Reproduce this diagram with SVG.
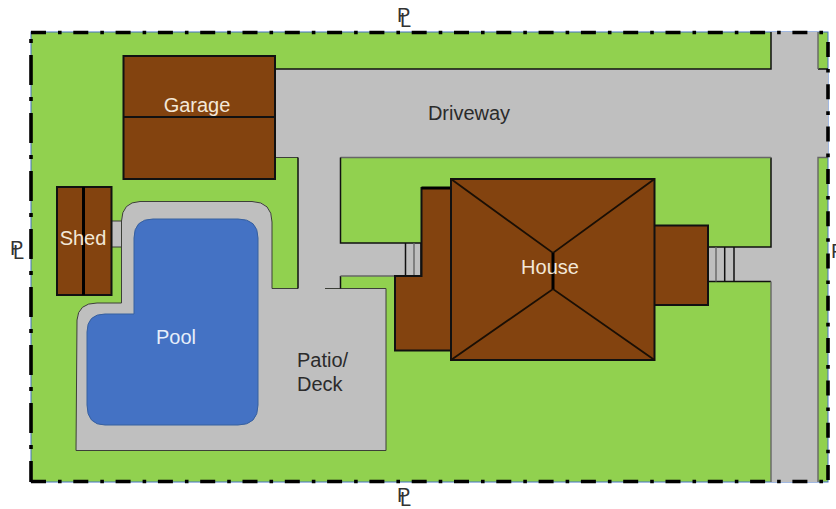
<svg xmlns="http://www.w3.org/2000/svg" width="836" height="509" viewBox="0 0 836 509">
<style>
text{font-family:"Liberation Sans",Arial,sans-serif;font-size:20px}
.lt{fill:#f3e8d8}
.dk{fill:#2b2b2b}
.pl{fill:#333;font-size:20px}
.paved{fill:#bfbfbf;stroke:none}
.edge{fill:none;stroke:#111;stroke-width:1.5}
.thin{fill:none;stroke:#3c3f38;stroke-width:1}
.gray{fill:none;stroke:#666;stroke-width:1.4}
.roof{fill:#83430f;stroke:#111;stroke-width:2}
.ridge{fill:none;stroke:#1a0f05;stroke-width:1.8}
.pline{fill:none;stroke:#000;stroke-width:3.6;stroke-dasharray:15 12 3.6 11.7}
.pline2{fill:none;stroke:#000;stroke-width:3.6;stroke-dasharray:30 12 4 12}
</style>
<g id="lot"><rect x="31" y="32" width="797" height="450" fill="#91d14f" stroke="#4472c4" stroke-width="1"/></g>
<g id="driveway">
<path class="paved" d="M275 69H771V32H818V69H828V157.500H818V482H771V281.500H708V247H771V157.500H340.500V243H422V276H340.500V288.500H386V450.500H76L77 320Q78 303 97 303H121.500V247H112V221H121.500Q122 202 140 201.500H252Q272 202 272 222V288.500H298V157.500H275Z"/>
<path class="edge" d="M275 69H771V32M818 69H828M771 157.500V247H708M708 281.500H771"/>
<path class="gray" d="M818 32V69M828 157.500H818V482M771 281.500V482M771 157.500H340.500"/>
<path class="thin" d="M275 157.500H298M298 288.500H272V222Q272 202 252 201.500H140Q122 202 121.500 221V303H97Q78 303 77 320L76 450.500H386V288.500H325"/>
<path class="edge" d="M298 157.500V288.500M340.500 157.500V243H422M340.500 288.500V276"/>
<path class="gray" d="M340.500 276H405"/>
<path class="thin" d="M112 221H121.500M112 247H121.500"/>
</g>
<g id="steps">
<path class="edge" d="M405.500 243V276M421 243V276M724.700 247V281.500M734 247V281.500"/>
<path class="gray" d="M414 243V276M716 247V281.500"/>
</g>
<g id="garage">
<rect class="roof" x="123.500" y="56" width="151.500" height="123"/>
<path class="edge" d="M123.500 117H275" style="stroke-width:2"/>
<text class="lt" x="197" y="112" text-anchor="middle">Garage</text>
</g>
<g id="shed">
<rect class="roof" x="57" y="187" width="54.500" height="108"/>
<path fill="none" stroke="#000" stroke-width="3" d="M83.500 187V295"/>
<text class="lt" x="83" y="245" text-anchor="middle">Shed</text>
</g>
<g id="pool">
<path fill="#4472c4" stroke="#37609f" stroke-width="1" d="M153 219H238Q258 219 258 238V405Q258 425 238 425H105Q87 425 87 405V332Q87 314 105 314H134V238Q134 219 153 219Z"/>
<text x="176" y="344" text-anchor="middle" style="fill:#e6eefa">Pool</text>
</g>
<g id="patio">
<text class="dk" x="297" y="367">Patio/</text>
<text class="dk" x="297" y="390.500">Deck</text>
</g>
<g id="house">
<path class="roof" d="M451 188H421.500V276H395V350.500H451Z"/>
<path fill="none" stroke="#000" stroke-width="3" d="M421.500 188H451"/>
<rect class="roof" x="654" y="225.500" width="54" height="79.500"/>
<rect class="roof" x="451" y="179" width="203.500" height="181"/>
<path class="ridge" d="M451 179L553 253L654.500 179M451 360L553 289L654.500 360"/>
<path fill="none" stroke="#000" stroke-width="3" d="M553 253V289"/>
<text class="lt" x="550" y="274" text-anchor="middle">House</text>
</g>
<g id="driveway-label"><text class="dk" x="469" y="120" text-anchor="middle">Driveway</text></g>
<g id="property-line">
<path class="pline" d="M31 32.500H828"/>
<path class="pline" d="M31 481.500H828"/>
<path class="pline2" d="M31 482V32" stroke-dashoffset="9"/>
<path class="pline" d="M828 42V482"/>
</g>
<g id="pl-labels">
<text class="pl" x="397" y="22">P</text><text class="pl" x="400" y="27">L</text>
<text class="pl" x="397" y="502">P</text><text class="pl" x="400" y="506">L</text>
<text class="pl" x="10" y="255">P</text><text class="pl" x="13" y="259">L</text>
<text class="pl" x="831" y="258">P</text>
</g>
</svg>
